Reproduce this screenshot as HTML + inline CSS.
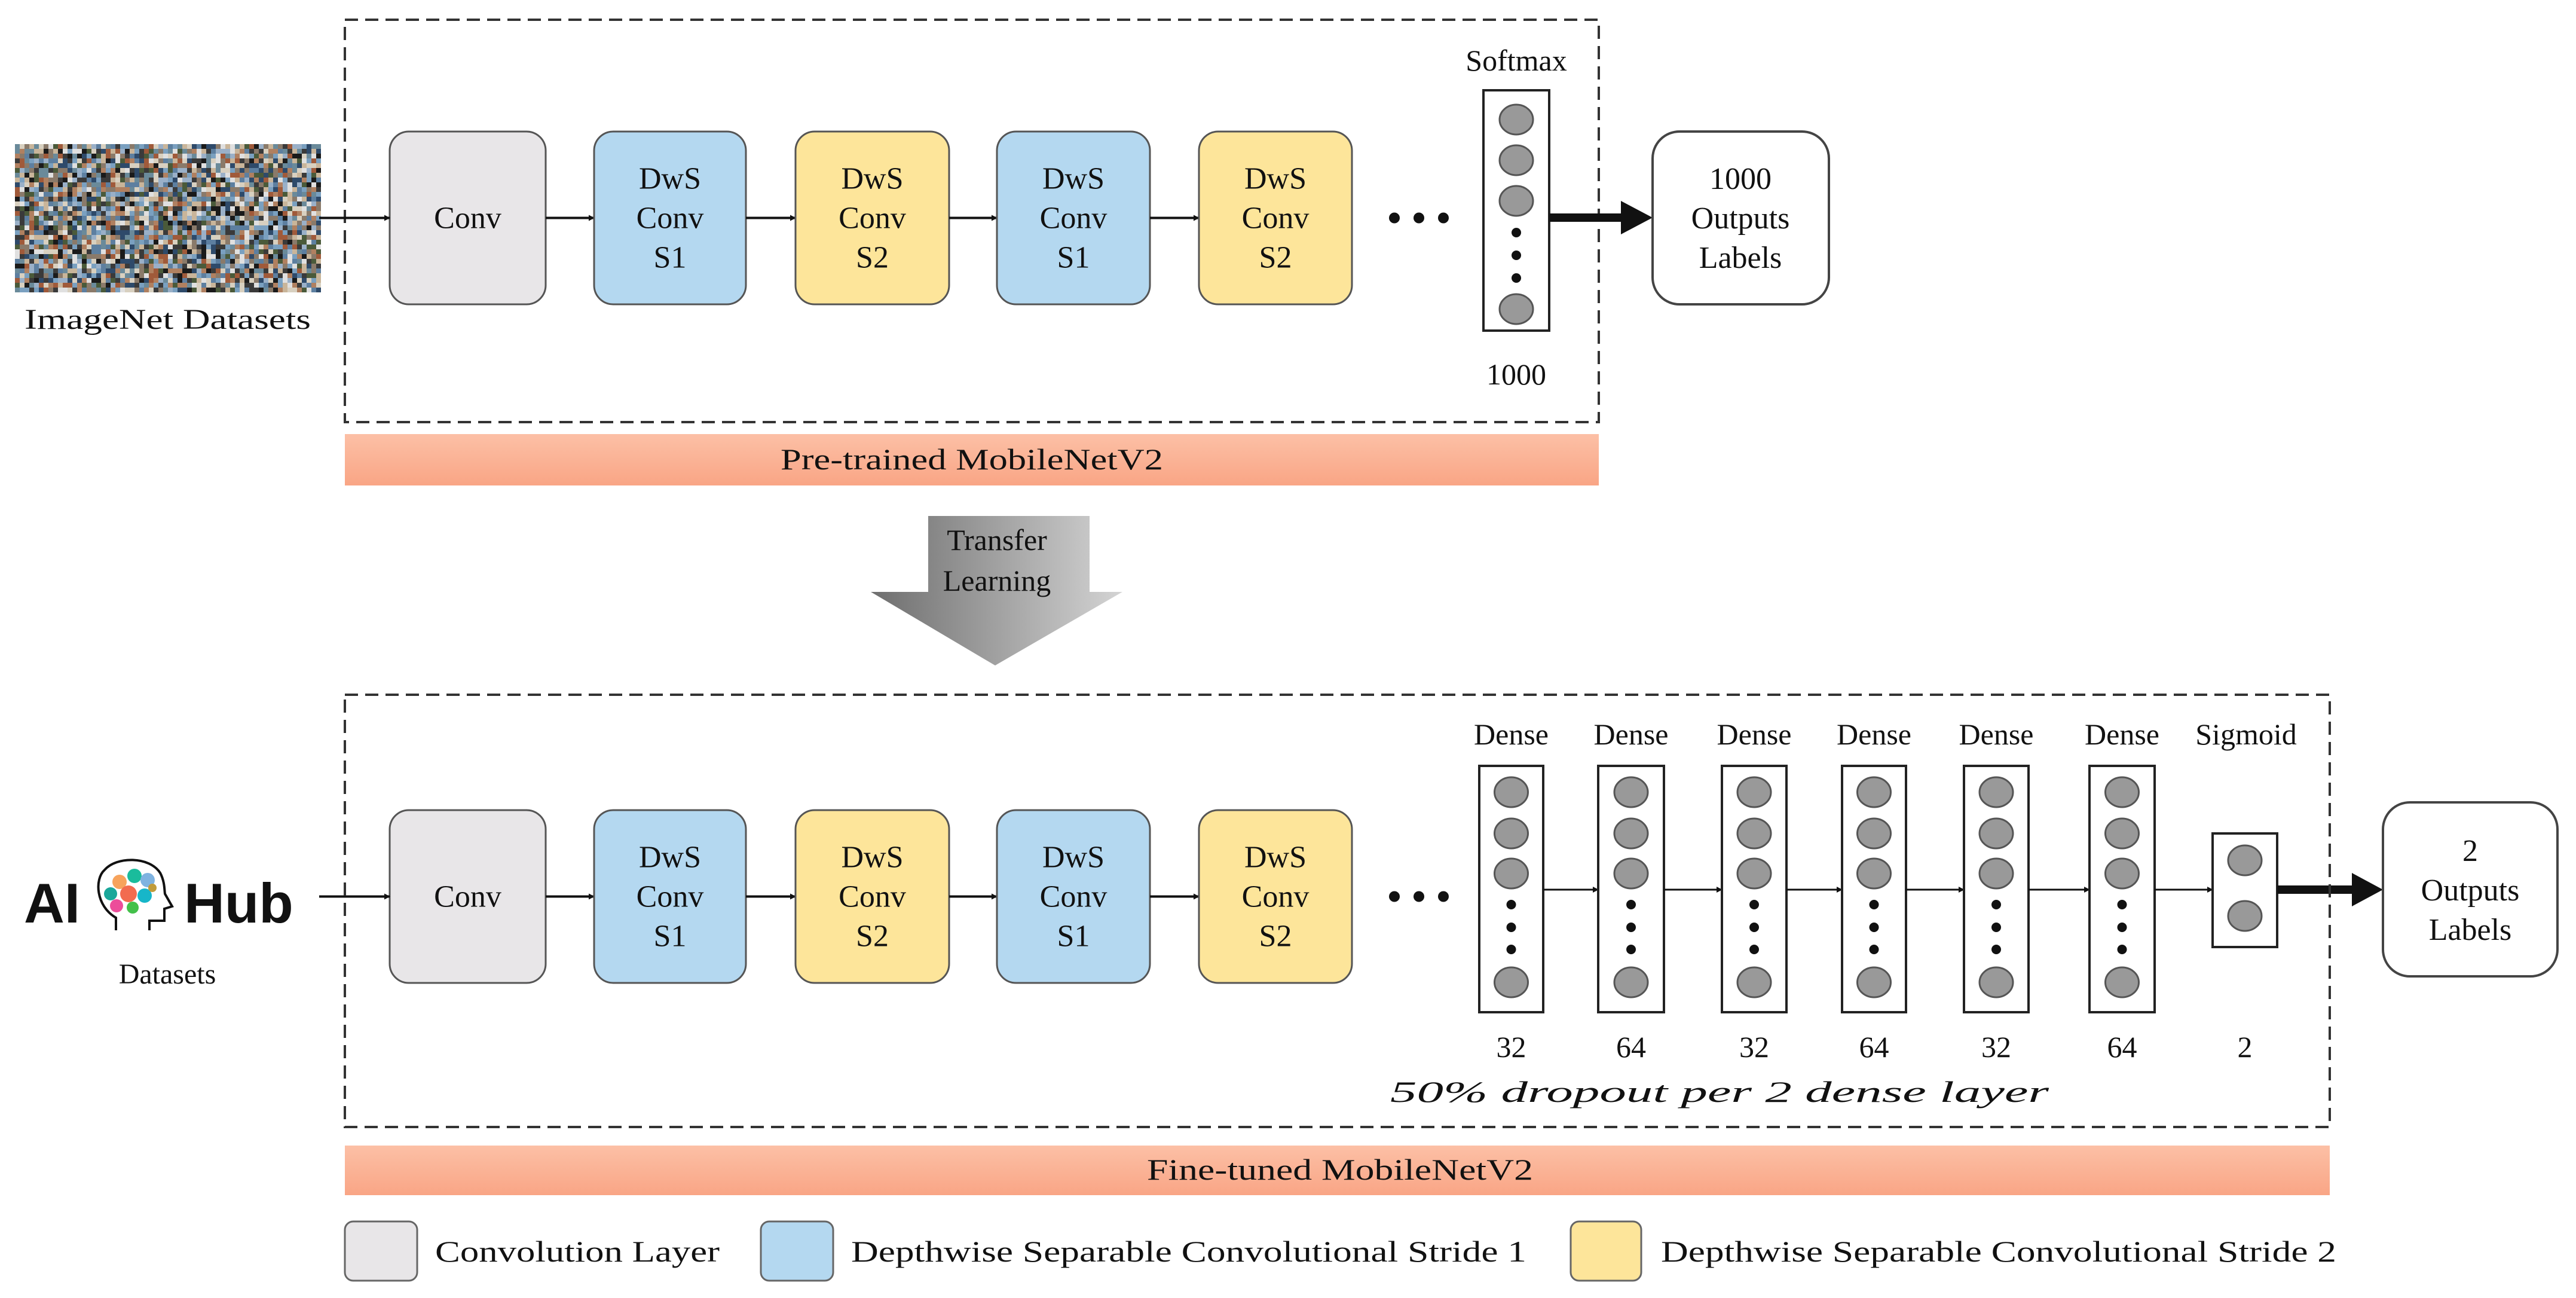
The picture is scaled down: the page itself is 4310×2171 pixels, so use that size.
<!DOCTYPE html>
<html><head><meta charset="utf-8"><style>
html,body{margin:0;padding:0;background:#fff;width:4310px;height:2171px;overflow:hidden}
svg{display:block}
text{font-family:"Liberation Serif","Noto Serif CJK SC","DejaVu Serif",serif;fill:#111}
</style></head><body>
<svg id="s" width="4310" height="2171" viewBox="0 0 4310 2171" xmlns="http://www.w3.org/2000/svg" font-family="Liberation Serif, Noto Serif CJK SC, DejaVu Serif, serif">
<defs>
<marker id="ah" markerWidth="10" markerHeight="10" refX="9" refY="5" orient="auto" markerUnits="userSpaceOnUse"><path d="M0,0 L10,5 L0,10 z" fill="#111"/></marker>
<linearGradient id="tg" x1="0" x2="1" y1="0" y2="0"><stop offset="0" stop-color="#6e6e6e"/><stop offset="1" stop-color="#d4d4d4"/></linearGradient>
<linearGradient id="sal" x1="0" x2="0" y1="0" y2="1"><stop offset="0" stop-color="#fcc0a6"/><stop offset="1" stop-color="#f9a585"/></linearGradient>
</defs>
<g id="mosaic"></g>
<text x="41" y="550" font-size="48" textLength="479" lengthAdjust="spacingAndGlyphs">ImageNet  Datasets</text>

<rect x="577" y="33" width="2098" height="673" fill="none" stroke="#333" stroke-width="4" stroke-dasharray="22,12"/>
<rect x="577" y="726" width="2098" height="86" fill="url(#sal)"/>
<text x="1306" y="785" font-size="50" textLength="640" lengthAdjust="spacingAndGlyphs">Pre-trained  MobileNetV2</text>

<g id="top"></g>
<g id="bot"></g>

<path d="M1553,863 H1823 V990 H1878 L1665,1113 L1457,990 H1553 Z" fill="url(#tg)"/>
<text x="1668" y="920" font-size="50" text-anchor="middle">Transfer</text>
<text x="1668" y="988" font-size="50" text-anchor="middle">Learning</text>

<rect x="577" y="1162" width="3321" height="723" fill="none" stroke="#333" stroke-width="4" stroke-dasharray="22,12"/>
<rect x="577" y="1916" width="3321" height="83" fill="url(#sal)"/>
<text x="1919" y="1973" font-size="50" textLength="646" lengthAdjust="spacingAndGlyphs">Fine-tuned  MobileNetV2</text>

<text x="40" y="1543" font-size="94" font-weight="bold" style="font-family:'Liberation Sans',sans-serif">AI</text>
<text x="308" y="1543" font-size="94" font-weight="bold" style="font-family:'Liberation Sans',sans-serif">Hub</text>
<path d="M194,1556 L194,1535 C160,1515 158,1470 175,1455 C195,1432 250,1432 268,1460 C276,1475 275,1490 276,1495 L288,1516 L275,1520 L275,1540 L250,1540 L250,1556" fill="none" stroke="#111" stroke-width="4"/>
<circle cx="200" cy="1475" r="12" fill="#f7a35c"/><circle cx="225" cy="1465" r="12" fill="#1abc9c"/><circle cx="247" cy="1472" r="12" fill="#7fb3e0"/>
<circle cx="185" cy="1495" r="11" fill="#1aa79a"/><circle cx="215" cy="1495" r="14" fill="#f26b4f"/><circle cx="242" cy="1498" r="12" fill="#17b6c9"/>
<circle cx="195" cy="1515" r="11" fill="#ec4d9a"/><circle cx="222" cy="1518" r="10" fill="#43c04a"/><circle cx="255" cy="1485" r="7" fill="#c09b3a"/>
<text x="280" y="1645" font-size="48" text-anchor="middle">Datasets</text>

<rect x="577" y="2043" width="121" height="99" rx="14" fill="#e8e6e8" stroke="#666" stroke-width="3"/>
<rect x="1273" y="2043" width="121" height="99" rx="14" fill="#b4d8f0" stroke="#666" stroke-width="3"/>
<rect x="2628" y="2043" width="118" height="99" rx="14" fill="#fde59a" stroke="#666" stroke-width="3"/>
<text x="728" y="2110" font-size="50" textLength="476" lengthAdjust="spacingAndGlyphs">Convolution  Layer</text>
<text x="1424" y="2110" font-size="50" textLength="1130" lengthAdjust="spacingAndGlyphs">Depthwise  Separable  Convolutional  Stride  1</text>
<text x="2779" y="2110" font-size="50" textLength="1130" lengthAdjust="spacingAndGlyphs">Depthwise  Separable  Convolutional  Stride  2</text>
</svg>
<script>
var NS="http://www.w3.org/2000/svg";
function el(p,t,a,txt){var e=document.createElementNS(NS,t);for(var k in a)e.setAttribute(k,a[k]);if(txt!==undefined)e.textContent=txt;p.appendChild(e);return e;}
var m=document.getElementById("mosaic");var seed=7;function r(){seed=(seed*9301+49297)%233280;return seed/233280;}
var cols=["#3a3a3a","#8a7a6a","#5d7fa0","#c9b59a","#2e4a6a","#a05a3a","#6a8a9a","#d8d0c0","#4a5a3a","#9ab0c8","#1a1a1a","#b08060","#e0e0e0","#7aa0c0"];
for(var y=241;y<483;y+=8)for(var x=25;x<534;x+=8)el(m,"rect",{x:x,y:y,width:8,height:8,fill:cols[Math.floor(r()*cols.length)]});
function boxes(g,y0,h){
 var B=[[652,913,"#e8e6e8",["Conv"]],[994,1248,"#b4d8f0",["DwS","Conv","S1"]],[1331,1588,"#fde59a",["DwS","Conv","S2"]],[1668,1924,"#b4d8f0",["DwS","Conv","S1"]],[2006,2262,"#fde59a",["DwS","Conv","S2"]]];
 var cy=y0+h/2;
 B.forEach(function(b,i){el(g,"rect",{x:b[0],y:y0,width:b[1]-b[0],height:h,rx:32,fill:b[2],stroke:"#555","stroke-width":3});
  var n=b[3].length;b[3].forEach(function(t,j){el(g,"text",{x:(b[0]+b[1])/2,y:cy+17+(j-(n-1)/2)*66,"font-size":52,"text-anchor":"middle"},t);});
  if(i<4)el(g,"line",{x1:b[1],y1:cy,x2:B[i+1][0],y2:cy,stroke:"#111","stroke-width":4,"marker-end":"url(#ah)"});});
 el(g,"line",{x1:534,y1:cy,x2:652,y2:cy,stroke:"#111","stroke-width":4,"marker-end":"url(#ah)"});
 [2333,2374,2415].forEach(function(x){el(g,"circle",{cx:x,cy:cy,r:9,fill:"#111"});});
}
var t=document.getElementById("top");boxes(t,220,289);
var b=document.getElementById("bot");boxes(b,1355,289);
function column(g,x1,x2,y1,y2,cys,dots){
 el(g,"rect",{x:x1,y:y1,width:x2-x1,height:y2-y1,fill:"#fff",stroke:"#222","stroke-width":4});
 var cx=(x1+x2)/2;cys.forEach(function(c){el(g,"ellipse",{cx:cx,cy:c,rx:28,ry:25,fill:"#999",stroke:"#555","stroke-width":3});});
 dots.forEach(function(c){el(g,"circle",{cx:cx,cy:c,r:8,fill:"#111"});});
}
column(t,2482,2592,151,553,[200,268,336,517],[389,427,465]);
el(t,"text",{x:2537,y:118,"font-size":50,"text-anchor":"middle"},"Softmax");
el(t,"text",{x:2537,y:643,"font-size":50,"text-anchor":"middle"},"1000");
el(t,"line",{x1:2592,y1:364,x2:2720,y2:364,stroke:"#111","stroke-width":14});
el(t,"path",{d:"M2712,336 L2765,364 L2712,392 z",fill:"#111"});
el(t,"rect",{x:2765,y:220,width:295,height:289,rx:45,fill:"#fff",stroke:"#444","stroke-width":4});
["1000","Outputs","Labels"].forEach(function(s,j){el(t,"text",{x:2912,y:316+j*66,"font-size":52,"text-anchor":"middle"},s);});
var D=[[2475,2582,"32"],[2674,2784,"64"],[2881,2989,"32"],[3082,3189,"64"],[3286,3394,"32"],[3496,3605,"64"]];
D.forEach(function(d,i){column(b,d[0],d[1],1281,1693,[1325,1394,1461,1643],[1513,1551,1588]);
 el(b,"text",{x:(d[0]+d[1])/2,y:1245,"font-size":50,"text-anchor":"middle"},"Dense");
 el(b,"text",{x:(d[0]+d[1])/2,y:1768,"font-size":50,"text-anchor":"middle"},d[2]);
 var nx=i<5?D[i+1][0]:3702;el(b,"line",{x1:d[1],y1:1488,x2:nx,y2:1488,stroke:"#111","stroke-width":3,"marker-end":"url(#ah)"});});
column(b,3702,3810,1394,1584,[1439,1532],[]);
el(b,"text",{x:3758,y:1245,"font-size":50,"text-anchor":"middle"},"Sigmoid");
el(b,"text",{x:3756,y:1768,"font-size":50,"text-anchor":"middle"},"2");
el(b,"text",{x:2326,y:1843,"font-size":50,"font-style":"italic",textLength:1102,lengthAdjust:"spacingAndGlyphs"},"50% dropout per 2 dense layer");
el(b,"line",{x1:3810,y1:1488,x2:3940,y2:1488,stroke:"#111","stroke-width":14});
el(b,"path",{d:"M3935,1460 L3987,1488 L3935,1516 z",fill:"#111"});
el(b,"rect",{x:3987,y:1342,width:292,height:291,rx:45,fill:"#fff",stroke:"#444","stroke-width":4});
["2","Outputs","Labels"].forEach(function(s,j){el(b,"text",{x:4133,y:1440+j*66,"font-size":52,"text-anchor":"middle"},s);});
</script>
</body></html>
